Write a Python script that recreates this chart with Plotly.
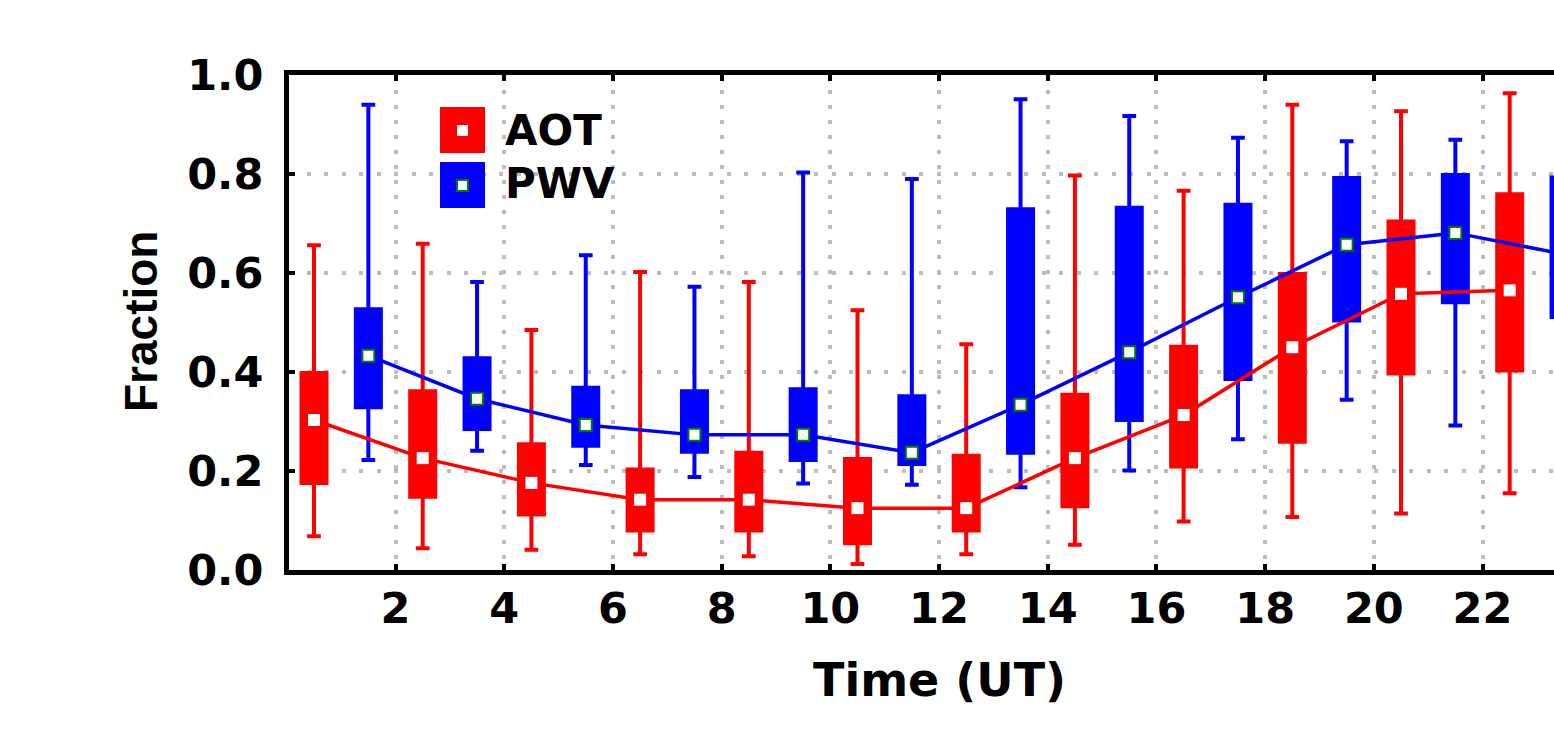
import plotly.graph_objects as go

# ---------------- data ----------------
aot_time = [0.5, 2.5, 4.5, 6.5, 8.5, 10.5, 12.5, 14.5, 16.5, 18.5, 20.5, 22.5]
aot_upper = [0.656, 0.659, 0.485, 0.602, 0.582, 0.525, 0.456, 0.797, 0.766, 0.940, 0.927, 0.963]
aot_q3 = [0.398, 0.361, 0.254, 0.203, 0.237, 0.224, 0.231, 0.354, 0.451, 0.598, 0.704, 0.759]
aot_median = [0.303, 0.226, 0.176, 0.142, 0.142, 0.125, 0.125, 0.226, 0.313, 0.450, 0.558, 0.565]
aot_q1 = [0.176, 0.148, 0.112, 0.080, 0.080, 0.054, 0.080, 0.129, 0.209, 0.259, 0.397, 0.403]
aot_lower = [0.068, 0.044, 0.041, 0.032, 0.028, 0.012, 0.032, 0.051, 0.098, 0.107, 0.114, 0.155]

pwv_time = [1.5, 3.5, 5.5, 7.5, 9.5, 11.5, 13.5, 15.5, 17.5, 19.5, 21.5, 23.5]
pwv_upper = [0.940, 0.582, 0.636, 0.572, 0.803, 0.790, 0.951, 0.917, 0.873, 0.866, 0.869, 0.880]
pwv_q3 = [0.527, 0.428, 0.368, 0.361, 0.365, 0.351, 0.729, 0.732, 0.738, 0.792, 0.798, 0.793]
pwv_median = [0.433, 0.346, 0.293, 0.273, 0.273, 0.237, 0.334, 0.440, 0.551, 0.657, 0.681, 0.638]
pwv_q1 = [0.329, 0.285, 0.251, 0.239, 0.222, 0.214, 0.237, 0.303, 0.386, 0.504, 0.541, 0.511]
pwv_lower = [0.222, 0.241, 0.212, 0.188, 0.175, 0.172, 0.167, 0.201, 0.264, 0.344, 0.292, 0.350]

x_tickvals = [2, 4, 6, 8, 10, 12, 14, 16, 18, 20, 22]
x_ticktext = ["2", "4", "6", "8", "10", "12", "14", "16", "18", "20", "22"]
y_tickvals = [0.0, 0.2, 0.4, 0.6, 0.8, 1.0]
y_ticktext = ["0.0", "0.2", "0.4", "0.6", "0.8", "1.0"]

series_names = ["AOT", "PWV"]

# ---------------- layout geometry ----------------
W, H = 1554, 743
L, R, T, B = 289, 0, 75, 173
PW = W - L - R
PH = H - T - B


def px(xp):
    return (xp - L) / PW


def py(yp):
    return 1 - (yp - T) / PH


RED = "#ff0000"
BLUE = "#0000ff"
GREEN = "#007a00"
TICKFONT = dict(family="DejaVu Sans", size=43, color="black", weight="bold")

fig = go.Figure()

box_common = dict(width=0.46, whiskerwidth=0.55, boxpoints=False, hoverinfo="skip",
                  showlegend=False)

fig.add_trace(go.Box(x=aot_time, q1=aot_q1, median=aot_median, q3=aot_q3,
                     lowerfence=aot_lower, upperfence=aot_upper,
                     fillcolor=RED, line=dict(color=RED, width=4), name=series_names[0],
                     **box_common))
fig.add_trace(go.Box(x=pwv_time, q1=pwv_q1, median=pwv_median, q3=pwv_q3,
                     lowerfence=pwv_lower, upperfence=pwv_upper,
                     fillcolor=BLUE, line=dict(color=BLUE, width=4), name=series_names[1],
                     **box_common))

fig.add_trace(go.Scatter(x=aot_time, y=aot_median, mode="lines+markers",
                         line=dict(color=RED, width=3.5),
                         marker=dict(symbol="square", size=12, color="white",
                                     line=dict(color=RED, width=0)),
                         showlegend=False, hoverinfo="skip"))
fig.add_trace(go.Scatter(x=pwv_time, y=pwv_median, mode="lines+markers",
                         line=dict(color=BLUE, width=3.5),
                         marker=dict(symbol="square", size=12, color="white",
                                     line=dict(color=GREEN, width=2)),
                         showlegend=False, hoverinfo="skip"))

# ---------------- manual legend ----------------
shapes = [
    dict(type="rect", xref="paper", yref="paper", x0=px(440), x1=px(485), y0=py(153), y1=py(107),
         fillcolor=RED, line=dict(width=0), layer="above"),
    dict(type="rect", xref="paper", yref="paper", x0=px(457), x1=px(468), y0=py(136), y1=py(125),
         fillcolor="white", line=dict(width=0), layer="above"),
    dict(type="rect", xref="paper", yref="paper", x0=px(440), x1=px(485), y0=py(208), y1=py(162),
         fillcolor=BLUE, line=dict(width=0), layer="above"),
    dict(type="rect", xref="paper", yref="paper", x0=px(457), x1=px(468), y0=py(191), y1=py(180),
         fillcolor="white", line=dict(color=GREEN, width=2), layer="above"),
]

annotations = [
    dict(text=series_names[0], xref="paper", yref="paper", x=px(503), y=py(130),
         xanchor="left", yanchor="middle", showarrow=False,
         font=dict(family="DejaVu Sans", size=42, color="black", weight="bold")),
    dict(text=series_names[1], xref="paper", yref="paper", x=px(503), y=py(183),
         xanchor="left", yanchor="middle", showarrow=False,
         font=dict(family="DejaVu Sans", size=42, color="black", weight="bold")),
    dict(text="Fraction", xref="paper", yref="paper", x=px(141), y=py(322),
         xanchor="center", yanchor="middle", textangle=-90, showarrow=False,
         font=dict(family="Liberation Sans", size=46, color="black", weight="bold")),
    dict(text="Time (UT)", xref="x", yref="paper", x=12, y=py(680),
         xanchor="center", yanchor="middle", showarrow=False,
         font=dict(family="DejaVu Sans", size=46, color="black", weight="bold")),
]

fig.update_layout(
    width=W, height=H,
    margin=dict(l=L, r=R, t=T, b=B, pad=0),
    paper_bgcolor="white", plot_bgcolor="white",
    boxmode="overlay",
    showlegend=False,
    shapes=shapes,
    annotations=annotations,
    xaxis=dict(range=[0.04, 0.04 + PW / 54.35], tickvals=x_tickvals, ticktext=x_ticktext,
               showline=True, linecolor="black", linewidth=5, mirror="ticks",
               ticks="inside", ticklen=6, tickwidth=4, tickcolor="black",
               showgrid=True, gridcolor="#bdbdbd", gridwidth=4, griddash="4px,11px",
               zeroline=False, tickfont=TICKFONT, ticklabelstandoff=-4),
    yaxis=dict(range=[0, 1], tickvals=y_tickvals, ticktext=y_ticktext,
               showline=True, linecolor="black", linewidth=5, mirror=False,
               ticks="inside", ticklen=6, tickwidth=4, tickcolor="black",
               showgrid=True, gridcolor="#bdbdbd", gridwidth=4, griddash="4px,13.5px",
               zeroline=False, tickfont=TICKFONT, ticklabelstandoff=12),
)

fig.write_html("out.html")
